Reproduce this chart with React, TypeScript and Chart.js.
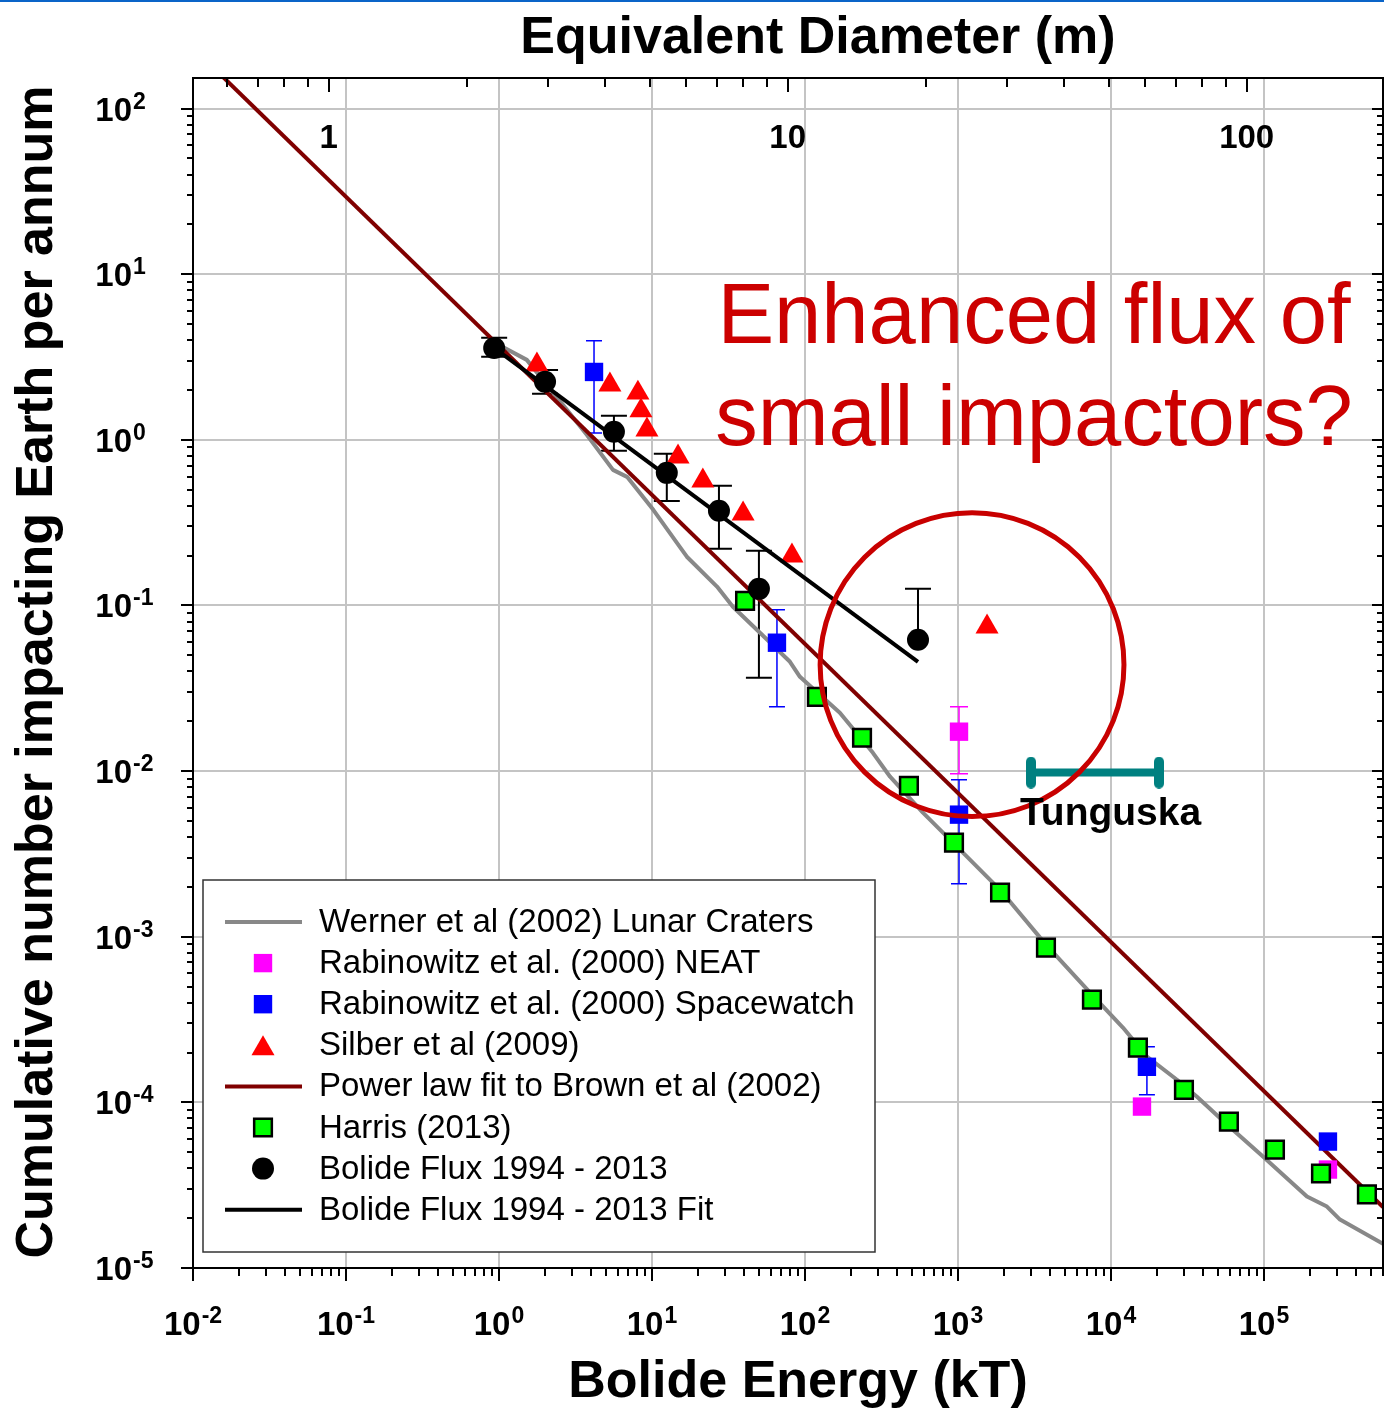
import React, { useEffect, useRef } from "react";
import { Chart, registerables } from "chart.js";

Chart.register(...registerables);

const W = 1384;
const H = 1413;
const FONT = '"Liberation Sans", Arial, Helvetica, sans-serif';

// ---------- axes ----------
const X_MIN = 0.01;
const X_MAX = 6.0e5;
const Y_MIN = 1e-5;
const Y_MAX = 153;
const KT_PER_M3 = 0.0771; // E(kT) = K * D(m)^3 for the top axis
const X_DECADES = [-2, -1, 0, 1, 2, 3, 4, 5];
const Y_DECADES = [-5, -4, -3, -2, -1, 0, 1, 2];
const D_MAJOR = [1, 10, 100];

// ---------- texts ----------
const X_TITLE = "Bolide Energy (kT)";
const TOP_TITLE = "Equivalent Diameter (m)";
const Y_TITLE = "Cumulative number impacting Earth per annum";
const CALLOUT_LINES = ["Enhanced flux of", "small impactors?"];
const TUNGUSKA_LABEL = "Tunguska";

const LABEL_WERNER = "Werner et al (2002) Lunar Craters";
const LABEL_NEAT = "Rabinowitz et al. (2000) NEAT";
const LABEL_SW = "Rabinowitz et al. (2000) Spacewatch";
const LABEL_SILBER = "Silber et al (2009)";
const LABEL_BROWN = "Power law fit to Brown et al (2002)";
const LABEL_HARRIS = "Harris (2013)";
const LABEL_BOLIDE = "Bolide Flux 1994 - 2013";
const LABEL_FIT = "Bolide Flux 1994 - 2013 Fit";

// ---------- series ----------
const wernerE = [1.06, 1.52, 2.78, 3.76, 5.56, 6.87, 10.2, 15.2, 16.9, 26.6, 33.8, 50.8, 79.8, 92.7, 169, 278, 360, 590, 985, 1884, 3760, 7510, 11970, 17180, 27000, 36500, 57300, 98500, 191000, 258000, 314000, 608000];
const wernerN = [3.64, 3.04, 1.52, 1.07, 0.659, 0.598, 0.378, 0.226, 0.197, 0.13, 0.0983, 0.0685, 0.0457, 0.0371, 0.0225, 0.0129, 0.00925, 0.00561, 0.0035, 0.00192, 8.96e-4, 4.47e-4, 2.83e-4, 1.89e-4, 1.37e-4, 1.08e-4, 7.35e-5, 4.71e-5, 2.7e-5, 2.35e-5, 1.96e-5, 1.39e-5];

const neatE = [1016, 15950, 262000];
const neatN = [0.0173, 9.43e-5, 3.93e-5];
const neatLo = [0.00964, null, null];
const neatHi = [0.0245, null, null];

const swE = [4.18, 65.6, 1016, 17180, 262000];
const swN = [2.57, 0.0596, 0.00546, 1.64e-4, 5.8e-5];
const swLo = [1.1, 0.0245, 0.00209, 1.11e-4, null];
const swHi = [3.96, 0.0942, 0.00887, 2.17e-4, null];

const silberE = [1.77, 5.31, 8.09, 8.47, 9.27, 14.8, 21.5, 39.4, 82.2, 1549];
const silberN = [2.84, 2.15, 1.92, 1.5, 1.15, 0.79, 0.566, 0.358, 0.1995, 0.0744];

const brownE = [0.01, 600000];
const brownN = [233, 2.33e-5];

const harrisE = [40.6, 119.7, 236, 478, 942, 1884, 3760, 7510, 15000, 30000, 59000, 118000, 236000, 471000];
const harrisN = [0.1067, 0.0281, 0.0159, 0.00816, 0.0037, 0.00185, 8.6e-4, 4.17e-4, 2.14e-4, 1.19e-4, 7.66e-5, 5.19e-5, 3.72e-5, 2.78e-5];

const bolideE = [0.93, 2.0, 5.64, 12.5, 27.4, 50, 548];
const bolideN = [3.59, 2.24, 1.12, 0.632, 0.373, 0.126, 0.0621];
const bolideLo = [3.17, 1.9, 0.86, 0.428, 0.22, 0.0366, null];
const bolideHi = [4.13, 2.64, 1.4, 0.823, 0.528, 0.214, 0.126];

const fitE = [0.93, 548];
const fitN = [3.59, 0.0457];

const tunguskaE = [3000, 20600];
const tunguskaN = [0.0098, 0.0098];

// ---------- annotation anchors (data units) ----------
const CIRCLE_E = 1236;
const CIRCLE_N = 0.0439;
const CIRCLE_R_DECADES = 0.993;
const CALLOUT_E = 3140;
const CALLOUT_N = [3.85, 0.933];
const TUNGUSKA_TEXT_E = 2540;
const TUNGUSKA_TEXT_N = 0.00475;

const pts = (xs: number[], ys: number[], lo?: (number | null)[], hi?: (number | null)[]) =>
  xs.map((x, i) => ({ x, y: ys[i], yMin: lo ? lo[i] : null, yMax: hi ? hi[i] : null }));

function makeCapImage(color: string) {
  const c = document.createElement("canvas");
  c.width = 10;
  c.height = 32;
  const g = c.getContext("2d")!;
  g.fillStyle = color;
  g.beginPath();
  g.moveTo(0, 5);
  g.arc(5, 5, 5, Math.PI, 0);
  g.lineTo(10, 27);
  g.arc(5, 27, 5, 0, Math.PI);
  g.closePath();
  g.fill();
  return c;
}

function drawMarker(ctx: CanvasRenderingContext2D, style: string, x: number, y: number, r: number, fill: string, stroke: string, bw: number) {
  ctx.beginPath();
  if (style === "circle") ctx.arc(x, y, r, 0, Math.PI * 2);
  else if (style === "rect") {
    const s = r * Math.SQRT1_2;
    ctx.rect(x - s, y - s, 2 * s, 2 * s);
  } else if (style === "triangle") {
    ctx.moveTo(x, y - r);
    ctx.lineTo(x + r * Math.sin((2 * Math.PI) / 3), y - r * Math.cos((2 * Math.PI) / 3));
    ctx.lineTo(x + r * Math.sin((4 * Math.PI) / 3), y - r * Math.cos((4 * Math.PI) / 3));
    ctx.closePath();
  }
  ctx.fillStyle = fill;
  ctx.fill();
  if (bw > 0) {
    ctx.lineWidth = bw;
    ctx.strokeStyle = stroke;
    ctx.stroke();
  }
}

const errorBarPlugin = {
  id: "errorBars",
  beforeDatasetsDraw(chart: any) {
    const { ctx } = chart;
    const xs = chart.scales.x;
    const ys = chart.scales.y;
    chart.data.datasets.forEach((ds: any) => {
      const eb = ds.errorBar;
      if (!eb) return;
      ctx.save();
      ctx.strokeStyle = eb.color;
      ctx.lineWidth = eb.width;
      ctx.beginPath();
      ds.data.forEach((p: any) => {
        if (p.yMin == null && p.yMax == null) return;
        const px = xs.getPixelForValue(p.x);
        const top = ys.getPixelForValue(p.yMax != null ? p.yMax : p.y);
        const bot = ys.getPixelForValue(p.yMin != null ? p.yMin : p.y);
        ctx.moveTo(px, top);
        ctx.lineTo(px, bot);
        if (p.yMax != null) {
          ctx.moveTo(px - eb.cap / 2, top);
          ctx.lineTo(px + eb.cap / 2, top);
        }
        if (p.yMin != null) {
          ctx.moveTo(px - eb.cap / 2, bot);
          ctx.lineTo(px + eb.cap / 2, bot);
        }
      });
      ctx.stroke();
      ctx.restore();
    });
  },
};

const annotationPlugin = {
  id: "annotationsAndLegend",
  afterDatasetsDraw(chart: any) {
    const { ctx, chartArea: a } = chart;
    const xs = chart.scales.x;
    const ys = chart.scales.y;
    ctx.save();
    // red circle
    const cx = xs.getPixelForValue(CIRCLE_E);
    const cy = ys.getPixelForValue(CIRCLE_N);
    const r = xs.getPixelForValue(CIRCLE_E * Math.pow(10, CIRCLE_R_DECADES)) - cx;
    ctx.beginPath();
    ctx.arc(cx, cy, r, 0, Math.PI * 2);
    ctx.strokeStyle = "#c80000";
    ctx.lineWidth = 5;
    ctx.stroke();

    // callout text
    ctx.fillStyle = "#cc0000";
    ctx.font = `85px ${FONT}`;
    ctx.textAlign = "center";
    ctx.textBaseline = "alphabetic";
    CALLOUT_LINES.forEach((t, i) => {
      ctx.fillText(t, xs.getPixelForValue(CALLOUT_E), ys.getPixelForValue(CALLOUT_N[i]));
    });

    // Tunguska label
    ctx.fillStyle = "#000";
    ctx.font = `bold 39px ${FONT}`;
    ctx.textAlign = "left";
    ctx.fillText(TUNGUSKA_LABEL, xs.getPixelForValue(TUNGUSKA_TEXT_E), ys.getPixelForValue(TUNGUSKA_TEXT_N));

    // legend
    const lx = a.left + 10;
    const lb = a.bottom - 16;
    const lw = 672;
    const lh = 372;
    ctx.fillStyle = "#fff";
    ctx.fillRect(lx, lb - lh, lw, lh);
    ctx.strokeStyle = "#333";
    ctx.lineWidth = 1.5;
    ctx.strokeRect(lx, lb - lh, lw, lh);
    const items = chart.data.datasets.filter((d: any) => d.legend !== false);
    ctx.font = `33px ${FONT}`;
    ctx.textBaseline = "middle";
    items.forEach((d: any, i: number) => {
      const rowY = lb - lh + 42 + i * 41.1;
      const symX = lx + 60;
      if (d.showLine) {
        ctx.beginPath();
        ctx.moveTo(lx + 22, rowY);
        ctx.lineTo(lx + 99, rowY);
        ctx.strokeStyle = d.borderColor;
        ctx.lineWidth = 4;
        ctx.stroke();
      } else {
        const st = d.pointStyle;
        const off = st === "triangle" ? d.pointRadius / 4 : 0;
        drawMarker(ctx, st, symX, rowY + off, d.pointRadius, d.pointBackgroundColor, d.pointBorderColor, d.pointBorderWidth || 0);
      }
      ctx.fillStyle = "#000";
      ctx.textAlign = "left";
      ctx.fillText(d.label, lx + 116, rowY + 1);
    });
    ctx.restore();
  },
};

const axesPlugin = {
  id: "axesDecor",
  afterDraw(chart: any) {
    const { ctx, chartArea: a } = chart;
    const xs = chart.scales.x;
    const ys = chart.scales.y;
    const xt = chart.scales.xTop;
    ctx.save();
    ctx.fillStyle = "#0a64c8";
    ctx.fillRect(0, 0, chart.width, 2);

    ctx.strokeStyle = "#000";
    ctx.lineWidth = 2;
    ctx.beginPath();
    for (const k of X_DECADES) {
      for (let m = 1; m <= 9; m++) {
        const v = m * Math.pow(10, k);
        if (v > X_MAX * 1.0001) continue;
        const p = Math.round(xs.getPixelForValue(v));
        ctx.moveTo(p, a.bottom);
        ctx.lineTo(p, a.bottom + (m === 1 ? 13 : 8));
      }
    }
    for (const k of Y_DECADES) {
      for (let m = 1; m <= 9; m++) {
        const v = m * Math.pow(10, k);
        if (v > Y_MAX) continue;
        const p = Math.round(ys.getPixelForValue(v));
        ctx.moveTo(a.left, p);
        ctx.lineTo(a.left - (m === 1 ? 12 : 6), p);
        ctx.moveTo(a.right, p);
        ctx.lineTo(a.right - (m === 1 ? 11 : 6), p);
      }
    }
    for (const k of [-1, 0, 1, 2]) {
      for (let m = 1; m <= 9; m++) {
        const d = m * Math.pow(10, k);
        if (d < xt.min || d > xt.max) continue;
        const p = Math.round(xt.getPixelForValue(d));
        ctx.moveTo(p, a.top);
        ctx.lineTo(p, a.top + (m === 1 ? 14 : 9));
      }
    }
    ctx.stroke();
    ctx.strokeRect(a.left, a.top, a.right - a.left, a.bottom - a.top);

    // tick labels
    const baseFont = `bold 33px ${FONT}`;
    const expFont = `bold 23px ${FONT}`;
    ctx.fillStyle = "#000";
    ctx.textBaseline = "alphabetic";
    for (const k of Y_DECADES) {
      const p = ys.getPixelForValue(Math.pow(10, k));
      ctx.font = baseFont;
      ctx.textAlign = "right";
      ctx.fillText("10", a.left - 61, p + 12);
      ctx.font = expFont;
      ctx.textAlign = "left";
      ctx.fillText(String(k), a.left - 60, p);
    }
    for (const k of X_DECADES) {
      const p = xs.getPixelForValue(Math.pow(10, k));
      ctx.font = baseFont;
      const w1 = ctx.measureText("10").width;
      ctx.font = expFont;
      const w2 = ctx.measureText(String(k)).width;
      const start = p - (w1 + w2 + 1) / 2;
      ctx.textAlign = "left";
      ctx.font = baseFont;
      ctx.fillText("10", start, a.bottom + 67);
      ctx.font = expFont;
      ctx.fillText(String(k), start + w1 + 1, a.bottom + 55);
    }
    ctx.font = baseFont;
    ctx.textAlign = "center";
    for (const d of D_MAJOR) {
      ctx.fillText(String(d), xt.getPixelForValue(d), a.top + 70);
    }

    // titles
    ctx.font = `bold 52px ${FONT}`;
    ctx.textAlign = "center";
    ctx.fillText(TOP_TITLE, 818, 53);
    ctx.fillText(X_TITLE, 798, 1397);
    ctx.save();
    ctx.translate(52, 672);
    ctx.rotate(-Math.PI / 2);
    ctx.fillText(Y_TITLE, 0, 0);
    ctx.restore();
    ctx.restore();
  },
};

export default function App() {
  const ref = useRef<HTMLCanvasElement | null>(null);
  useEffect(() => {
    document.body.style.margin = "0";
    const canvas = ref.current;
    if (!canvas) return;
    const capImg = makeCapImage("#008080");
    const datasets: any[] = [
      {
        label: LABEL_WERNER,
        data: pts(wernerE, wernerN),
        showLine: true,
        borderColor: "#888888",
        borderWidth: 4,
        borderJoinStyle: "round",
        pointRadius: 0,
        order: 10,
      },
      {
        label: LABEL_NEAT,
        data: pts(neatE, neatN, neatLo, neatHi),
        pointStyle: "rect",
        pointRadius: 13,
        pointBackgroundColor: "#ff00ff",
        pointBorderColor: "#ff00ff",
        pointBorderWidth: 0,
        errorBar: { color: "#ff00ff", width: 1.5, cap: 18 },
        order: 8,
      },
      {
        label: LABEL_SW,
        data: pts(swE, swN, swLo, swHi),
        pointStyle: "rect",
        pointRadius: 13,
        pointBackgroundColor: "#0000ff",
        pointBorderColor: "#0000ff",
        pointBorderWidth: 0,
        errorBar: { color: "#0000ff", width: 1.5, cap: 16 },
        order: 7,
      },
      {
        label: LABEL_SILBER,
        data: pts(silberE, silberN),
        pointStyle: "triangle",
        pointRadius: 13.3,
        pointBackgroundColor: "#ff0000",
        pointBorderColor: "#ff0000",
        pointBorderWidth: 0,
        order: 6,
      },
      {
        label: LABEL_BROWN,
        data: pts(brownE, brownN),
        showLine: true,
        borderColor: "#800000",
        borderWidth: 4,
        pointRadius: 0,
        order: 9,
      },
      {
        label: LABEL_HARRIS,
        data: pts(harrisE, harrisN),
        pointStyle: "rect",
        pointRadius: 12.5,
        pointBackgroundColor: "#00ff00",
        pointBorderColor: "#000000",
        pointBorderWidth: 2.5,
        order: 5,
      },
      {
        label: LABEL_BOLIDE,
        data: pts(bolideE, bolideN, bolideLo, bolideHi),
        pointStyle: "circle",
        pointRadius: 11,
        pointBackgroundColor: "#000000",
        pointBorderColor: "#000000",
        pointBorderWidth: 0,
        errorBar: { color: "#000000", width: 2, cap: 26 },
        order: 3,
      },
      {
        label: LABEL_FIT,
        data: pts(fitE, fitN),
        showLine: true,
        borderColor: "#000000",
        borderWidth: 4,
        pointRadius: 0,
        order: 4,
      },
      {
        label: TUNGUSKA_LABEL,
        data: pts(tunguskaE, tunguskaN),
        showLine: true,
        borderColor: "#008080",
        borderWidth: 8,
        pointStyle: capImg,
        pointRadius: 16,
        pointBorderWidth: 0,
        legend: false,
        order: 1,
      },
    ];

    const chart = new Chart(canvas, {
      type: "scatter",
      data: { datasets },
      options: {
        responsive: false,
        animation: false,
        devicePixelRatio: 1,
        events: [],
        layout: { autoPadding: false, padding: { left: 0, right: 1, top: 0, bottom: 0 } },
        plugins: { legend: { display: false }, tooltip: { enabled: false } },
        scales: {
          x: {
            type: "logarithmic",
            position: "bottom",
            min: X_MIN,
            max: X_MAX,
            afterBuildTicks: (s: any) => {
              s.ticks = X_DECADES.map((k) => ({ value: Math.pow(10, k) }));
            },
            afterFit: (s: any) => {
              s.height = 145;
            },
            ticks: { display: false },
            grid: { color: "#c4c4c4", lineWidth: 2, drawTicks: false },
            border: { display: false },
          },
          xTop: {
            type: "logarithmic",
            position: "top",
            min: Math.cbrt(X_MIN / KT_PER_M3),
            max: Math.cbrt(X_MAX / KT_PER_M3),
            afterFit: (s: any) => {
              s.height = 78;
            },
            ticks: { display: false },
            grid: { display: false },
            border: { display: false },
          },
          y: {
            type: "logarithmic",
            position: "left",
            min: Y_MIN,
            max: Y_MAX,
            afterBuildTicks: (s: any) => {
              s.ticks = Y_DECADES.map((k) => ({ value: Math.pow(10, k) }));
            },
            afterFit: (s: any) => {
              s.width = 193;
            },
            ticks: { display: false },
            grid: { color: "#c4c4c4", lineWidth: 2, drawTicks: false },
            border: { display: false },
          },
        },
      } as any,
      plugins: [errorBarPlugin, annotationPlugin, axesPlugin],
    });
    return () => chart.destroy();
  }, []);
  return (
    <div style={{ width: W, height: H, background: "#fff" }}>
      <canvas ref={ref} width={W} height={H} style={{ display: "block" }} />
    </div>
  );
}
